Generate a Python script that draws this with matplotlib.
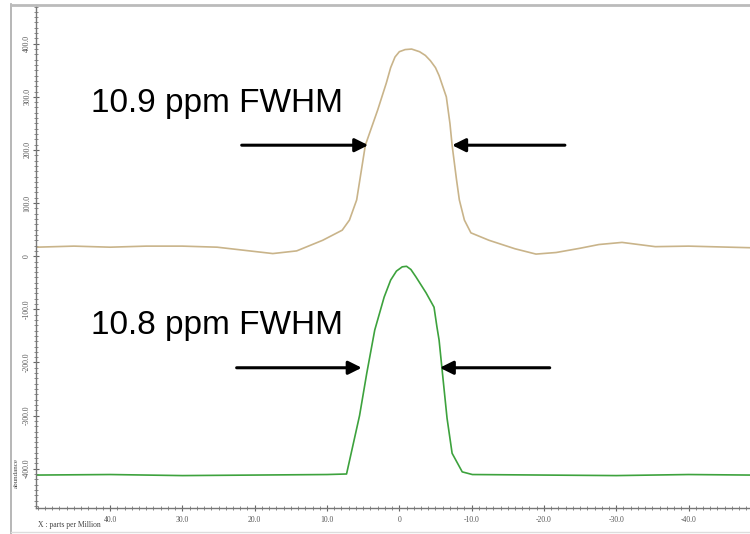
import matplotlib.pyplot as plt
from matplotlib.lines import Line2D
from matplotlib.ticker import MultipleLocator, FuncFormatter

# upper trace (ppm, abundance)
top_ppm = [50.2, 45, 40, 35, 30, 25.2, 22, 17.5, 14.2, 10.6, 7.9, 6.9, 5.9, 4.7,
           3.0, 1.8, 1.2, 0.6, 0.0, -0.8, -1.7, -2.8, -3.6, -4.3, -5.0, -5.5, -6.5,
           -7.0, -7.3, -7.9, -8.3, -9.0, -9.9, -12.4, -16, -18.9, -21.7, -25, -27.6,
           -30.8, -35.4, -40, -48.5]
top_val = [17, 19, 17, 19, 19, 17, 12, 5, 10, 30, 49, 68, 106, 209,
           275, 326, 355, 375, 385, 389, 390, 385, 378, 368, 355, 340, 300,
           250, 209, 145, 106, 68, 44, 30, 14, 4, 7, 15, 22,
           26, 18, 19, 16]

# lower trace
low_ppm = [50.2, 40, 30, 20, 10, 7.3, 5.5, 4.5, 3.4, 2.1, 1.2, 0.4, -0.4, -1.0, -1.6,
           -2.3, -3.7, -4.8, -5.2, -5.5, -6.0, -6.6, -7.3, -8.7, -10.1, -20, -30, -40, -48.5]
low_val = [-412, -411, -413, -412, -411, -410, -300, -220, -139, -77, -45, -28, -20, -19, -25,
           -39, -69, -96, -133, -158, -225, -305, -371, -406, -411, -412, -413, -411, -412]

x_ticks = [40, 30, 20, 10, 0, -10, -20, -30, -40]
y_ticks = [-400, -300, -200, -100, 0, 100, 200, 300, 400]
labels = ["10.9 ppm FWHM", "10.8 ppm FWHM"]

fig = plt.figure(figsize=(7.5, 5.34), dpi=100)
ax = fig.add_axes([0.048, 0.0487, 0.952, 0.942])

ax.plot(top_ppm, top_val, color='#c9b48a', lw=1.2)
ax.plot(low_ppm, low_val, color='#3da23d', lw=1.2)

ax.set_xlim(50.25, -48.5)
ax.set_ylim(-474, 473)

for s in ['top', 'right']:
    ax.spines[s].set_visible(False)
for s in ['left', 'bottom']:
    ax.spines[s].set_color('#777777')
    ax.spines[s].set_linewidth(1.0)

ax.set_xticks(x_ticks)
ax.set_yticks(y_ticks)
ax.xaxis.set_minor_locator(MultipleLocator(1))
ax.yaxis.set_minor_locator(MultipleLocator(10))
fmt = FuncFormatter(lambda v, p: '0' if abs(v) < 1e-9 else '%.1f' % v)
ax.xaxis.set_major_formatter(fmt)
ax.yaxis.set_major_formatter(fmt)
ax.tick_params(which='major', direction='inout', length=5, width=0.8, color='#666666',
               labelsize=5.5, labelcolor='#555555', labelfontfamily='Liberation Serif', pad=3)
ax.tick_params(axis='y', which='major', pad=1)
ax.tick_params(which='minor', direction='inout', length=3, width=0.6, color='#777777')
for t in ax.get_yticklabels():
    t.set_rotation(90)
    t.set_va('center')

# FWHM annotations
ax.text(42.7, 288, labels[0], fontsize=24, family='Liberation Sans', va='center', ha='left')
ax.text(42.7, -131, labels[1], fontsize=24, family='Liberation Sans', va='center', ha='left')

arrow = dict(arrowstyle='-|>', lw=2.2, color='black', mutation_scale=20, shrinkA=0, shrinkB=0)
ax.annotate('', xy=(4.3, 209), xytext=(21.8, 209), arrowprops=arrow)
ax.annotate('', xy=(-7.3, 209), xytext=(-22.9, 209), arrowprops=arrow)
ax.annotate('', xy=(5.2, -210), xytext=(22.5, -210), arrowprops=arrow)
ax.annotate('', xy=(-5.6, -210), xytext=(-20.8, -210), arrowprops=arrow)

# axis captions as the instrument software shows them
fig.text(0.022, 0.115, 'abundance', rotation=90, fontsize=5, family='Liberation Serif',
         color='#444444', va='center', ha='center')
fig.text(0.051, 0.016, 'X : parts per Million', fontsize=5.5, family='Liberation Serif',
         color='#444444', va='center', ha='left')

# window frame
fig.add_artist(Line2D([0.014, 0.014], [0, 0.992], color='#aaaaaa', lw=1.2))
fig.add_artist(Line2D([0.014, 1.0], [0.990, 0.990], color='#bbbbbb', lw=2.0))
fig.add_artist(Line2D([0.014, 1.0], [0.004, 0.004], color='#dddddd', lw=1.0))

fig.savefig('out.png', dpi=100)
